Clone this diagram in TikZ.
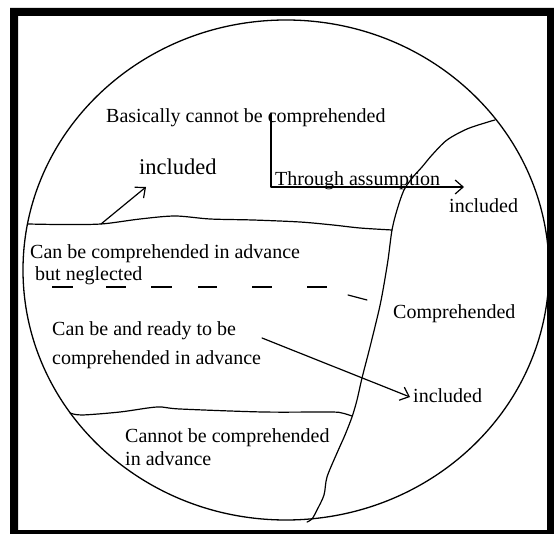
\documentclass[tikz,border=0pt]{standalone}
\usepackage{fontspec}
\setmainfont{Liberation Serif}
\usetikzlibrary{arrows.meta}
\begin{document}
\begin{tikzpicture}[x=1pt,y=-1pt,
  lbl/.style={anchor=base west, inner sep=0pt, font=\fontsize{20}{23}\selectfont},
  ln/.style={line width=1.2pt, line join=round, line cap=round},
  dsh/.style={line width=2pt},
  arr/.style={ln, -{Straight Barb[length=8pt,width=14pt,line width=1.2pt]}}]
\useasboundingbox (0,0) rectangle (554,534);
% frame
\fill[black, even odd rule] (10,8) rectangle (554,534) (18,16) rectangle (547,530);
% circle
\draw[line width=1.3pt] (286,270) ellipse [x radius=263pt, y radius=250pt];
% region boundaries
\draw[ln] plot[smooth, tension=0.5] coordinates {(28,224) (60,224.5) (101,224) (140,219) (175,216) (210,219) (253,220) (300,222) (333,225) (360,228) (392,230)};
\draw[ln] plot[smooth, tension=0.5] coordinates {(495,120) (488,122) (467,129) (447,140) (432,155) (422,167) (413,177) (404,190) (397,210) (392,230) (388,260) (383,290) (379,310) (370,347) (362,378) (357,400) (352,417) (345,435) (337,453) (327,477) (324,495) (317,510) (312,519) (307,522)};
\draw[ln] plot[smooth, tension=0.5] coordinates {(70,413) (82,415) (120,412) (157,407) (180,409) (263,412) (330,412) (342,413) (352,416)};
% dashed line
\foreach \a/\b in {52/73,106/126,151/172,198/217,252/272,307/327}
  \draw[dsh] (\a,287) -- (\b,287);
\draw[ln] (348,295) -- (367,300);
% texts
\node[lbl] (basic) at (106,123) {Basically cannot be comprehended};
\node[lbl, font=\fontsize{22.5}{25}\selectfont] (inc1) at (139,175) {included};
\node[lbl] (through) at (275,186) {Through assumption};
\node[lbl] (inc2) at (449,213) {included};
\node[lbl] (adv1) at (30,259) {Can be comprehended in advance};
\node[lbl] (negl) at (35,281) {but neglected};
\node[lbl] (compr) at (393,319) {Comprehended};
\node[lbl] (ready1) at (52,336) {Can be and ready to be};
\node[lbl] (ready2) at (52,364) {comprehended in advance};
\node[lbl] (inc3) at (413,402) {included};
\node[lbl] (cannot1) at (125,442) {Cannot be comprehended};
\node[lbl] (cannot2) at (125,465) {in advance};
% arrows
\coordinate (a1s) at (101,224);
\coordinate (a1e) at (146,187);
\draw[arr] (a1s) -- (a1e);
\coordinate (bs) at (271,113);
\coordinate (be) at (464,187);
\draw[arr] (bs) |- (be);
\coordinate (a3s) at (262,338);
\coordinate (a3e) at (410,397);
\draw[arr] (a3s) -- (a3e);
\end{tikzpicture}
\end{document}
